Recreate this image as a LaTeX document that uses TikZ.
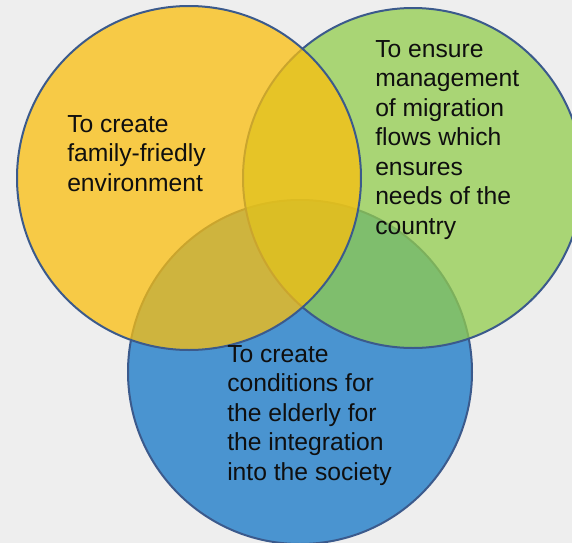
\documentclass[tikz,border=0pt]{standalone}
\usepackage{fontspec}
\setmainfont{Liberation Sans}
\definecolor{yel}{RGB}{251,191,14}
\definecolor{grn}{RGB}{146,205,77}
\definecolor{blu}{RGB}{74,148,208}
\definecolor{rim}{RGB}{59,90,140}
\definecolor{bg}{RGB}{238,238,238}
\definecolor{ink}{RGB}{15,15,15}
\begin{document}
\begin{tikzpicture}[x=0.75pt,y=-0.75pt,
  venn/.style={circle, draw=rim, line width=1.5pt, inner sep=0pt, outer sep=0pt},
  txt/.style={anchor=north west, inner sep=0pt, align=left, text=ink,
    font=\fontsize{18.5}{22.1}\selectfont}]
\fill[bg] (0,0) rectangle (572,543);
\useasboundingbox (0,0) rectangle (572,543);
\node[venn, fill=blu, minimum size=258pt] (blue) at (300,372) {};
\node[venn, fill=grn, fill opacity=0.75, minimum size=255pt] (green) at (413,178) {};
\node[venn, fill=yel, fill opacity=0.75, minimum size=258pt] (yellow) at (189,178) {};
\node[txt] (tyellow) at (67,115) {To create\\family-friedly\\environment};
\node[txt] (tgreen) at (375,40) {To ensure\\management\\of migration\\flows which\\ensures\\needs of the\\country};
\node[txt] (tblue) at (227,345) {To create\\conditions for\\the elderly for\\the integration\\into the society};
\end{tikzpicture}
\end{document}
